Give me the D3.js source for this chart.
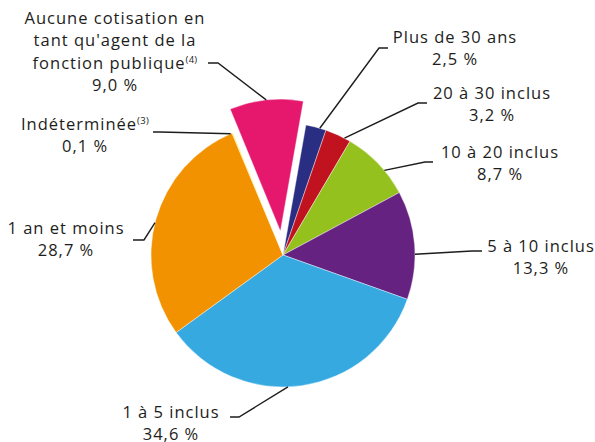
<!DOCTYPE html>
<html>
<head>
<meta charset="utf-8">
<script src="https://cdn.jsdelivr.net/npm/d3@7"></script>
<style>
  body { margin: 0; background: #fff; }
  svg text { font-family: "Open Sans", "Noto Sans", sans-serif; fill: #1d1d1b; letter-spacing: 1px; }
</style>
</head>
<body>
<div id="chart"></div>
<script>
// categories, clockwise from the top
const categories = [
  "Plus de 30 ans",
  "20 à 30 inclus",
  "10 à 20 inclus",
  "5 à 10 inclus",
  "1 à 5 inclus",
  "1 an et moins",
  "Indéterminée",
  "Aucune cotisation en tant qu'agent de la fonction publique"
];
const values = [2.5, 3.2, 8.7, 13.3, 34.6, 28.7, 0.1, 9.0];
const notes = ["", "", "", "", "", "", "(3)", "(4)"];
const colors = ["#2a2e83", "#c1121f", "#95c11f", "#662281", "#36a9e1", "#f39200", "#ffdd00", "#e5186e"];

const width = 595, height = 442;
const cx = 283, cy = 255, radius = 132;
const startDeg = 10;
const explodeIndex = 7, explodeDist = 24;

// label placement: text centre, first baseline, line break of the title, leader elbow & end
const labelLayout = [
  { x: 455, y: 43, lines: ["Plus de 30 ans"], elbow: [379, 48], end: [388, 48], nudge: 1.7 },
  { x: 492, y: 99, lines: ["20 à 30 inclus"], elbow: [418, 103], end: [427, 103], nudge: 3 },
  { x: 500, y: 158, lines: ["10 à 20 inclus"], elbow: [425, 162], end: [433, 162], nudge: 4 },
  { x: 541, y: 252, lines: ["5 à 10 inclus"], elbow: [472, 251], end: [482, 251], nudge: 4 },
  { x: 171, y: 418, lines: ["1 à 5 inclus"], elbow: [239, 417], end: [230, 417], nudge: 6 },
  { x: 66, y: 234, lines: ["1 an et moins"], elbow: [144, 240], end: [133, 240], nudge: -1.5 },
  { x: 85, y: 130, lines: ["Indéterminée"], elbow: [160, 132], end: [153, 132], nudge: -0.8 },
  { x: 115, y: 24, lines: ["Aucune cotisation en", "tant qu'agent de la", "fonction publique"], elbow: [218, 63], end: [208, 63], nudge: 0 }
];
const lineGap = 22.3;

const fr = d3.formatLocale({ decimal: ",", thousands: " ", grouping: [3], currency: ["", " €"] });
const fmt = fr.format(".1f");

const svg = d3.select("#chart").append("svg")
  .attr("width", width)
  .attr("height", height);

const a0 = startDeg * Math.PI / 180;
const pie = d3.pie().sort(null).value(d => d).startAngle(a0).endAngle(a0 + 2 * Math.PI);
const arcs = pie(values);
const arc = d3.arc().innerRadius(0).outerRadius(radius);

function offsetOf(i) {
  if (i !== explodeIndex) return [0, 0];
  const m = (arcs[i].startAngle + arcs[i].endAngle) / 2;
  return [Math.sin(m) * explodeDist, -Math.cos(m) * explodeDist];
}

const g = svg.append("g").attr("transform", "translate(" + cx + "," + cy + ")");

g.selectAll("path.slice")
  .data(arcs)
  .enter()
  .append("path")
  .attr("class", "slice")
  .attr("transform", (d, i) => "translate(" + offsetOf(i).join(",") + ")")
  .attr("d", arc)
  .attr("fill", (d, i) => colors[i])
  .attr("stroke", "#fff")
  .attr("stroke-width", 0.4);

// leader lines
const line = d3.line();
arcs.forEach(function(d, i) {
  const L = labelLayout[i];
  const m = (d.startAngle + d.endAngle) / 2 + L.nudge * Math.PI / 180;
  const off = offsetOf(i);
  const p = [cx + off[0] + Math.sin(m) * radius, cy + off[1] - Math.cos(m) * radius];
  svg.append("path")
    .attr("d", line([p, L.elbow, L.end]))
    .attr("fill", "none")
    .attr("stroke", "#1d1d1b")
    .attr("stroke-width", 1.4);
});

// labels
labelLayout.forEach(function(L, i) {
  const rows = L.lines.concat([fmt(values[i]) + " %"]);
  rows.forEach(function(r, k) {
    const t = svg.append("text")
      .attr("x", L.x)
      .attr("y", L.y + k * lineGap)
      .attr("text-anchor", "middle")
      .style("font-size", "16.5px");
    t.append("tspan").text(r);
    if (k === L.lines.length - 1 && notes[i]) {
      t.append("tspan")
        .attr("dy", -6)
        .style("font-size", "9.5px")
        .style("letter-spacing", "0.3px")
        .text(notes[i]);
    }
  });
});
</script>
</body>
</html>
